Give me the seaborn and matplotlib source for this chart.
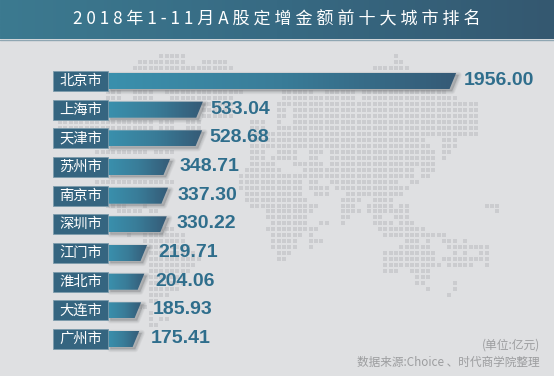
import numpy as np
import pandas as pd
import matplotlib
matplotlib.use("Agg")
import matplotlib.pyplot as plt
from matplotlib.colors import LinearSegmentedColormap
from matplotlib.patches import Polygon, Rectangle
import seaborn as sns

title = "2018年1-11月A股定增金额前十大城市排名"
cities = ["北京市", "上海市", "天津市", "苏州市", "南京市", "深圳市", "江门市", "淮北市", "大连市", "广州市"]
amounts = [1956.00, 533.04, 528.68, 348.71, 337.30, 330.22, 219.71, 204.06, 185.93, 175.41]
unit_note = "(单位:亿元)"
source_note = "数据来源:Choice 、时代商学院整理"

# dotted background map: row -> runs of columns
map_rows = {
    0: [(20, 24), (64, 64)],
    1: [(16, 24), (28, 32), (64, 65)],
    2: [(15, 33), (60, 66)],
    6: [(10, 12), (15, 18), (21, 33), (34, 35), (43, 48), (51, 56), (58, 73)],
    7: [(10, 12), (15, 18), (22, 33), (43, 56), (58, 75)],
    8: [(28, 33), (42, 79)],
    9: [(28, 33), (42, 43), (45, 79)],
    10: [(28, 33), (42, 43), (45, 79)],
    11: [(1, 18), (20, 22), (25, 27), (37, 39), (42, 42), (45, 79)],
    12: [(1, 18), (20, 22), (25, 27), (37, 39), (42, 79)],
    13: [(37, 41), (42, 79)],
    14: [(37, 41), (42, 69), (73, 75)],
    15: [(37, 41), (42, 70), (73, 75)],
    16: [(8, 17), (19, 22), (37, 39), (42, 45), (48, 50), (52, 71), (73, 74)],
    17: [(37, 39), (41, 45), (48, 49), (52, 71), (73, 73)],
    18: [(37, 41), (45, 50), (52, 71)],
    19: [(36, 42), (47, 67), (69, 71)],
    20: [(35, 67), (69, 70)],
    21: [(8, 22), (35, 46), (48, 49), (52, 64), (67, 68)],
    22: [(35, 46), (48, 51), (53, 66)],
    23: [(36, 46), (49, 51), (55, 65)],
    24: [(36, 47), (54, 57), (60, 63)],
    25: [(10, 13), (17, 17), (37, 49), (54, 56), (59, 63), (65, 66), (81, 83)],
    26: [(12, 14), (15, 16), (18, 19), (40, 48), (54, 57), (59, 66), (83, 83)],
    27: [(40, 47), (54, 55), (60, 61), (64, 66)],
    28: [(41, 47), (50, 51), (54, 54), (60, 63), (65, 67)],
    29: [(20, 22), (40, 49), (61, 69)],
    30: [(14, 14), (17, 24), (41, 46), (48, 48), (62, 73)],
    31: [(17, 24), (41, 45), (48, 50), (66, 68), (70, 70), (73, 75), (77, 77)],
    32: [(18, 25), (41, 45), (48, 48), (65, 70), (74, 81)],
    33: [(18, 26), (42, 44), (62, 71), (75, 75), (77, 77), (80, 81)],
    34: [(18, 27), (42, 43), (62, 71), (73, 81)],
    35: [(18, 26), (62, 72), (74, 78), (81, 81)],
    36: [(18, 25), (62, 64), (67, 70)],
    37: [(18, 24), (68, 70)],
    38: [(18, 24), (68, 69), (75, 75)],
    39: [(18, 23), (70, 70), (75, 75)],
    40: [(18, 21), (74, 74)],
    41: [(18, 19)],
    42: [(16, 17)],
    43: [(18, 18)],
    44: [(18, 18), (20, 21)],
    45: [(18, 19)],
}

W, H = 554, 376
PX_PER_UNIT = 0.178
BAR_X = 108
ROW0_Y, ROW_STEP = 81, 28.67

sns.set_theme(style="white")
plt.rcParams["font.family"] = ["Noto Sans CJK SC", "DejaVu Sans"]

fig = plt.figure(figsize=(W / 100, H / 100), dpi=100, facecolor="#dfe0e2")

# background layer, in pixels
bg = fig.add_axes([0, 0, 1, 1])
bg.set_xlim(0, W)
bg.set_ylim(H, 0)
bg.axis("off")

dots = pd.DataFrame(
    [(54.8 + 5.33 * c, 56 + 5.98 * r) for r, runs in map_rows.items() for a, b in runs for c in range(a, b + 1)],
    columns=["px", "py"],
)
sns.scatterplot(data=dots, x="px", y="py", marker="s", s=8.3, color="#cbcccf", linewidth=0, ax=bg, legend=False)
bg.set(xlabel=None, ylabel=None)

band = LinearSegmentedColormap.from_list("band", ["#3c7a90", "#376a83", "#345870"])
bg.imshow(np.linspace(0, 1, 256).reshape(1, -1), cmap=band, extent=(0, W, 39, 0), aspect="auto", zorder=5)
bg.plot([0, W], [39.5, 39.5], color="#8fa6b2", lw=1, zorder=5)
bg.set_xlim(0, W)
bg.set_ylim(H, 0)
bg.text(276.5, 20, " ".join(title), color="white", fontsize=12.3, fontweight="medium", ha="center", va="center", zorder=6)

# bars, in data units
ax = fig.add_axes([0, 0, 1, 1])
ax.patch.set_alpha(0)
frame = pd.DataFrame({"city": cities, "amount": amounts})
sns.barplot(data=frame, x="amount", y="city", orient="h", width=0.56, color="#35708c", ax=ax)

x_min, x_max = -BAR_X / PX_PER_UNIT, (W - BAR_X) / PX_PER_UNIT
y_top, y_bottom = -ROW0_Y / ROW_STEP, (H - ROW0_Y) / ROW_STEP
slant = 6.6 / PX_PER_UNIT
shade_x, shade_y = 2.5 / PX_PER_UNIT, 2 / ROW_STEP
fade = LinearSegmentedColormap.from_list("fade", ["#3a90ad", "#397c98", "#355a76"])

for i, bar in enumerate(list(ax.patches)):
    y0, y1 = bar.get_y(), bar.get_y() + bar.get_height()
    w = bar.get_width()
    bar.set_visible(False)
    outline = [(0, y0), (w, y0), (w - slant, y1), (0, y1)]
    # soft shadow
    for lw in [4.5, 3.4, 2.4, 1.4, 0.5]:
        ax.add_patch(Polygon([(a + shade_x, b + shade_y) for a, b in outline], closed=True, facecolor="#7d8083",
                             edgecolor="#7d8083", lw=lw, alpha=0.09, zorder=2, joinstyle="round"))
    img = ax.imshow(np.linspace(0, 1, 256).reshape(1, -1), cmap=fade, extent=(0, w, y1, y0), aspect="auto", zorder=3)
    img.set_clip_path(Polygon(outline, closed=True, transform=ax.transData))
    # city tag
    ax.add_patch(Rectangle((-55 / PX_PER_UNIT, i - 0.35), 55 / PX_PER_UNIT, 0.70, facecolor="#356580",
                           edgecolor="#7d9cac", lw=0.6, zorder=4))
    ax.text(-27.3 / PX_PER_UNIT, i, cities[i], color="white", fontsize=10.3, fontweight="medium",
            ha="center", va="center", zorder=5)
    # shorter bars sit a little further from their number
    gap = max(7.5, 13.3 - 0.0105 * w)
    ax.text(w + gap / PX_PER_UNIT, i - 0.02, f"{amounts[i]:.2f}", color="#2f6e8c", fontsize=14, fontweight="bold",
            family="Liberation Sans", ha="left", va="center", zorder=5)

ax.set_xlim(x_min, x_max)
ax.set_ylim(y_bottom, y_top)
ax.axis("off")

fig.text(540 / W, 1 - 345 / H, unit_note, color="#9c9d9f", fontsize=8.5, ha="right", va="center")
fig.text(540 / W, 1 - 362 / H, source_note, color="#9c9d9f", fontsize=8.4, ha="right", va="center")

fig.savefig("out.png", dpi=100, facecolor=fig.get_facecolor())
